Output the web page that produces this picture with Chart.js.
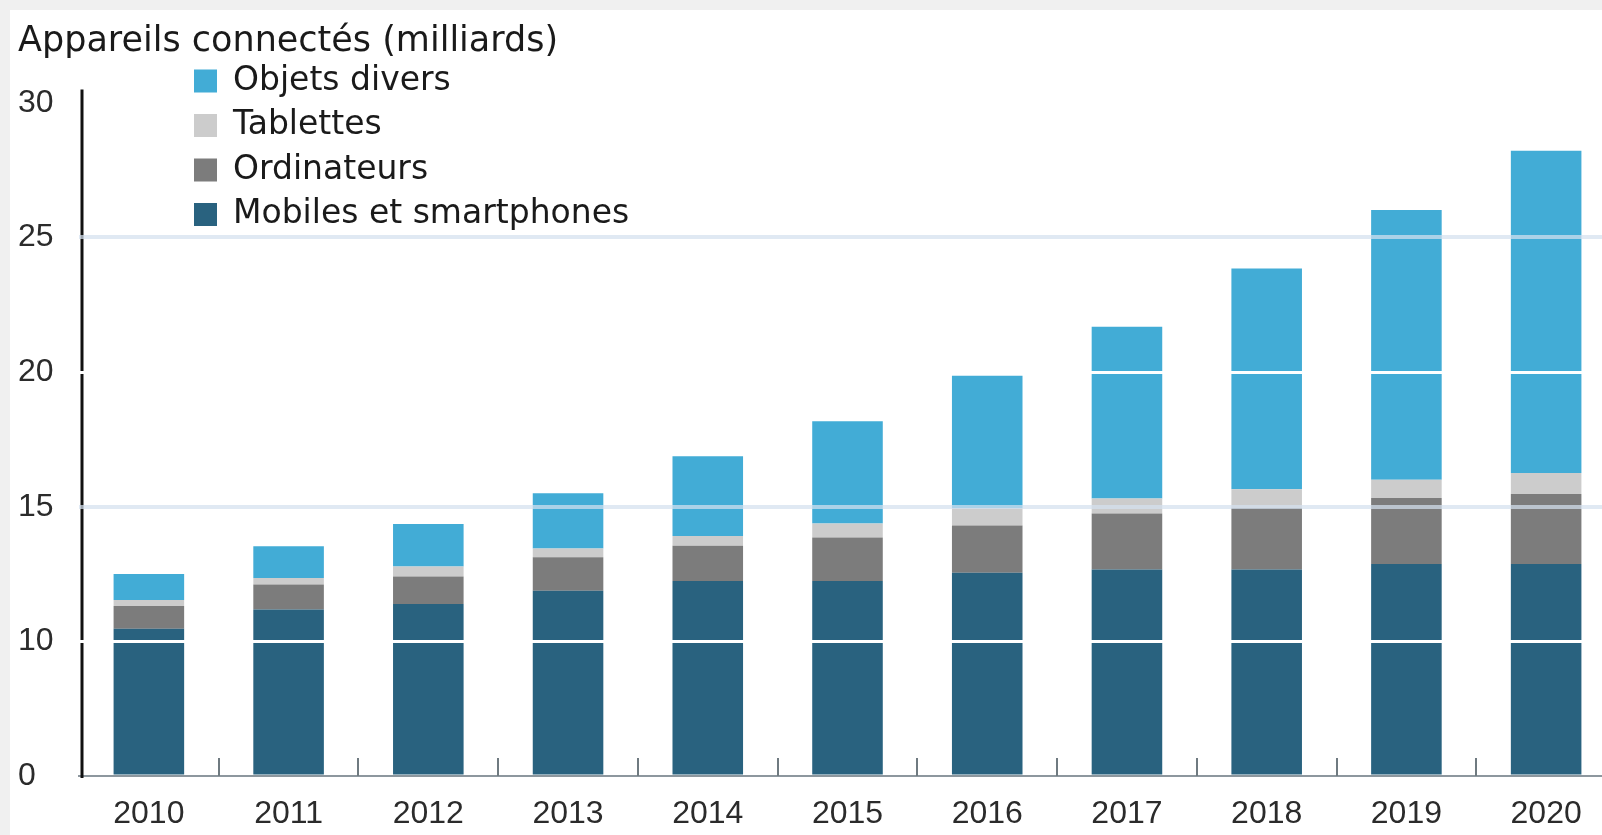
<!DOCTYPE html>
<html lang="fr">
<head>
<meta charset="utf-8">
<script src="https://cdn.jsdelivr.net/npm/chart.js@4.4.1/dist/chart.umd.min.js"></script>
<style>
  html, body { margin: 0; padding: 0; background: #f0f0f0; overflow: hidden; width: 1602px; height: 835px; }
  #wrap { position: absolute; left: 10px; top: 10px; width: 1610px; height: 825px; background: #ffffff; }
  canvas { display: block; }
</style>
</head>
<body>
<div id="wrap"><canvas id="c" width="1610" height="825"></canvas></div>
<script>
// ---- Data (milliards d'appareils) ----
const years = ['2010', '2011', '2012', '2013', '2014', '2015', '2016', '2017', '2018', '2019', '2020'];
const mobiles     = [10.47, 11.18, 11.39, 11.88, 12.24, 12.24, 12.55, 12.67, 12.67, 12.87, 12.87];
const ordinateurs = [0.84, 0.93, 1.02, 1.24, 1.31, 1.62, 1.75, 2.08, 2.28, 2.45, 2.60];
const tablettes   = [0.23, 0.24, 0.37, 0.33, 0.36, 0.52, 0.64, 0.55, 0.70, 0.68, 0.78];
const objets      = [0.96, 1.18, 1.58, 2.05, 2.96, 3.79, 4.92, 6.38, 8.20, 10.02, 11.97];
const yTicks = [0, 10, 15, 20, 25, 30];
const seriesLabels = ['Mobiles et smartphones', 'Ordinateurs', 'Tablettes', 'Objets divers'];
const titleText = 'Appareils connectés (milliards)';

// ---- Broken (compressed below 10) value axis, as in the original ----
const BREAK_AT = 10, BREAK_RATIO = 0.5;
function toAxis(v) { return v <= BREAK_AT ? v * BREAK_RATIO : BREAK_AT * BREAK_RATIO + (v - BREAK_AT); }
function fromAxis(t) { const tb = BREAK_AT * BREAK_RATIO; return t <= tb ? t / BREAK_RATIO : BREAK_AT + (t - tb); }
class BrokenLinearScale extends Chart.LinearScale {
  getPixelForValue(value) {
    if (value === null || value === undefined || isNaN(value)) return NaN;
    const a = toAxis(this.min), b = toAxis(this.max);
    return this.getPixelForDecimal((toAxis(value) - a) / (b - a));
  }
  getValueForPixel(pixel) {
    const a = toAxis(this.min), b = toAxis(this.max);
    return fromAxis(a + this.getDecimalForPixel(pixel) * (b - a));
  }
}
BrokenLinearScale.id = 'brokenLinear';
BrokenLinearScale.defaults = Chart.LinearScale.defaults;
Chart.register(BrokenLinearScale);

// ---- Legend drawn inside the plot, top-left, reversed order ----
const sideLegend = {
  id: 'sideLegend',
  afterDraw(chart, args, opts) {
    const ctx = chart.ctx;
    const ds = chart.data.datasets.slice().reverse();
    ctx.save();
    ctx.font = opts.font;
    ctx.textBaseline = 'middle';
    ctx.textAlign = 'left';
    ds.forEach((d, i) => {
      const cy = opts.y + i * opts.rowGap;
      ctx.fillStyle = d.backgroundColor;
      ctx.fillRect(opts.x, cy - opts.box / 2, opts.box, opts.box);
      ctx.fillStyle = opts.color;
      ctx.fillText(d.label, opts.x + opts.box + opts.gap, cy);
    });
    ctx.restore();
  }
};

// ---- Axis lines: black value axis + short inward ticks between categories ----
const axisDecor = {
  id: 'axisDecor',
  afterDatasetsDraw(chart, args, opts) {
    const xs = chart.scales.x, area = chart.chartArea, ctx = chart.ctx;
    ctx.save();
    // inward category ticks
    ctx.strokeStyle = opts.tickColor;
    ctx.lineWidth = opts.tickWidth;
    ctx.beginPath();
    for (let i = 1; i < xs.ticks.length; i++) {
      const x = Math.round((xs.getPixelForTick(i - 1) + xs.getPixelForTick(i)) / 2);
      ctx.moveTo(x, area.bottom);
      ctx.lineTo(x, area.bottom - opts.tickLength);
    }
    ctx.stroke();
    // value axis line
    ctx.strokeStyle = opts.axisColor;
    ctx.lineWidth = opts.axisWidth;
    ctx.beginPath();
    const ax = area.left + opts.axisShift;
    ctx.moveTo(ax, area.top + 3);
    ctx.lineTo(ax, area.bottom + 2);
    ctx.stroke();
    ctx.restore();
  }
};

const colors = ['#29627f', '#7c7c7c', '#cccccc', '#42acd6'];
const values = [mobiles, ordinateurs, tablettes, objets];

new Chart(document.getElementById('c'), {
  type: 'bar',
  data: {
    labels: years,
    datasets: values.map((v, i) => ({
      label: seriesLabels[i],
      data: v,
      backgroundColor: colors[i],
      borderWidth: 0,
      barPercentage: 0.505,
      categoryPercentage: 1.0
    }))
  },
  options: {
    responsive: false,
    animation: false,
    devicePixelRatio: 1,
    layout: { padding: { left: 8, right: 4, top: 0, bottom: 0 } },
    plugins: {
      legend: { display: false },
      tooltip: { enabled: false },
      title: {
        display: true,
        text: titleText,
        align: 'start',
        color: '#1a1a1a',
        font: { family: 'DejaVu Sans', size: 35, weight: 'normal', lineHeight: 1.2 },
        padding: { top: 11, bottom: 23.6 }
      },
      sideLegend: { x: 184, y: 71, rowGap: 44.5, box: 23, gap: 16, font: '33px "DejaVu Sans"', color: '#1a1a1a' },
      axisDecor: { tickLength: 18, tickWidth: 2, tickColor: '#6f7a80', axisColor: '#111111', axisWidth: 3, axisShift: 3 }
    },
    scales: {
      x: {
        stacked: true,
        grid: { display: false, drawTicks: false },
        border: { display: true, color: '#8d979e', width: 2 },
        ticks: { color: '#2b2b2b', font: { family: 'Liberation Sans', size: 32 }, padding: 19, maxRotation: 0 },
        afterFit: s => { s.height = 59; }
      },
      y: {
        type: 'brokenLinear',
        stacked: true,
        min: 0,
        max: 30.6,
        afterBuildTicks: s => { s.ticks = yTicks.map(v => ({ value: v })); },
        afterFit: s => { s.width = 61; },
        grid: {
          z: 1,
          drawTicks: false,
          color: c => {
            const v = c.tick && c.tick.value;
            if (v === 10 || v === 20) return '#ffffff';
            if (v === 15 || v === 25) return 'rgba(212,225,238,0.72)';
            return 'rgba(0,0,0,0)';
          },
          lineWidth: c => {
            const v = c.tick && c.tick.value;
            return (v === 15 || v === 25) ? 4 : 3;
          }
        },
        border: { display: false },
        ticks: {
          crossAlign: 'far',
          padding: 0,
          color: '#2b2b2b',
          font: { family: 'Liberation Sans', size: 32 },
          callback: v => String(v)
        }
      }
    }
  },
  plugins: [sideLegend, axisDecor]
});
</script>
</body>
</html>
